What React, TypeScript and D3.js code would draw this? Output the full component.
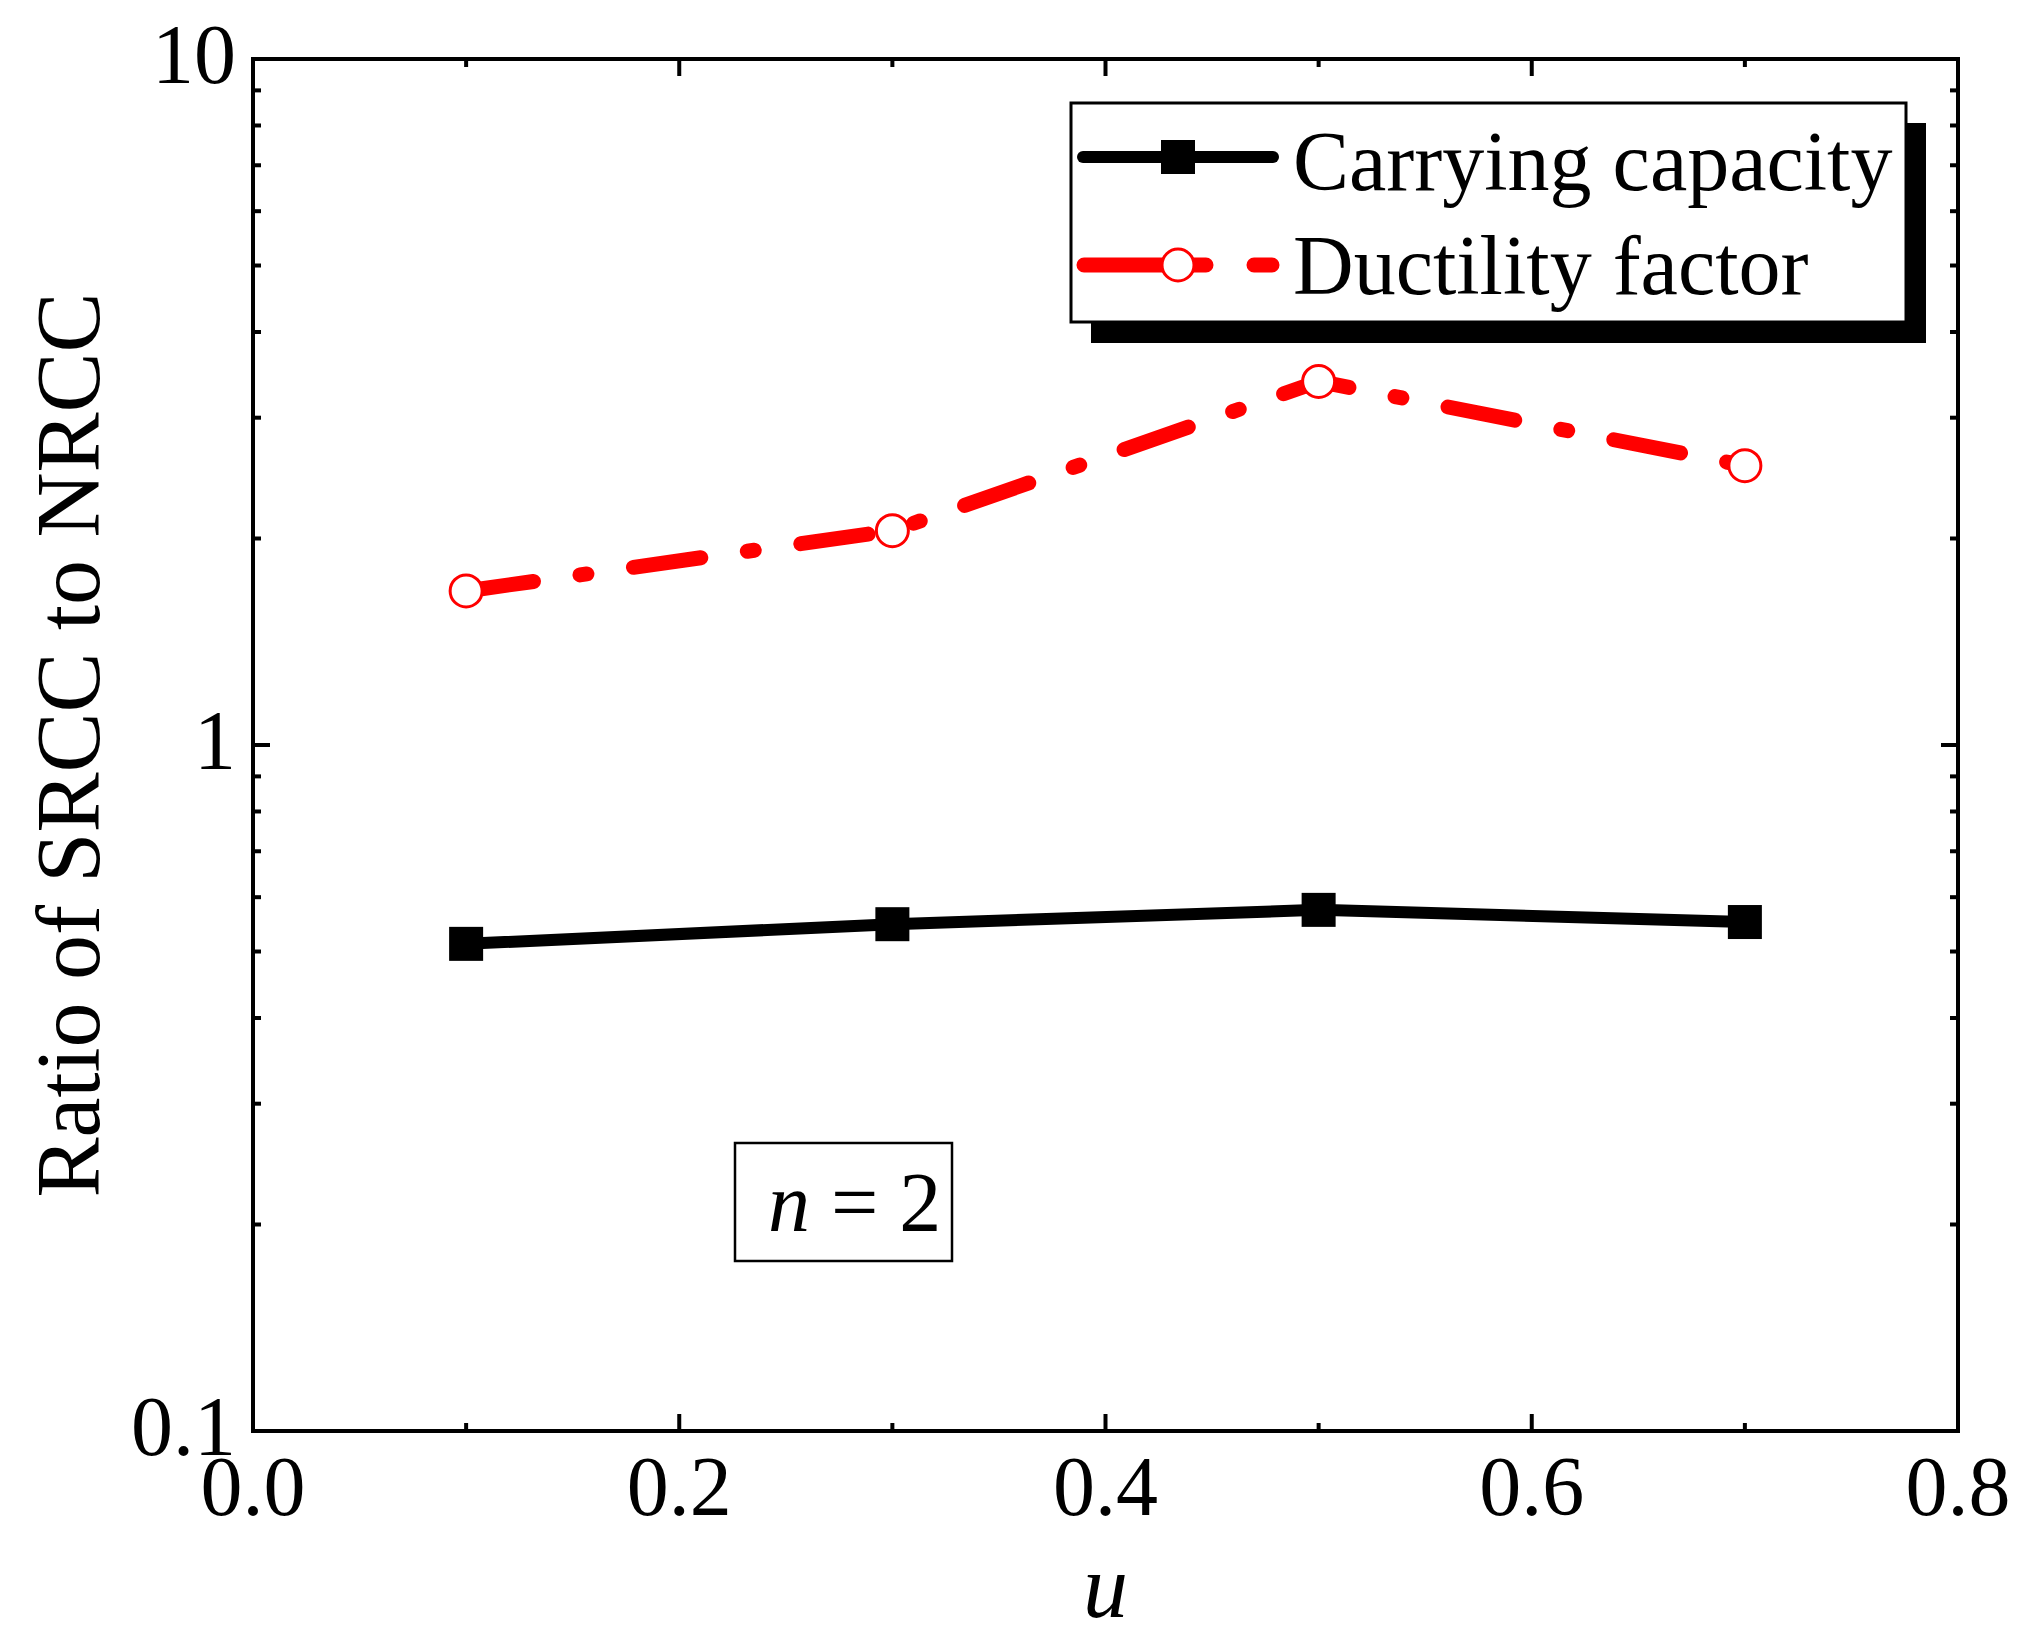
import * as d3 from "d3";

const uValues = [0.1, 0.3, 0.5, 0.7];
const carrying = [0.513, 0.548, 0.575, 0.552];
const ductility = [1.677, 2.053, 3.388, 2.554];

const xMajor = [0, 0.2, 0.4, 0.6, 0.8];
const xMinor = [0.1, 0.3, 0.5, 0.7];
const yMajor = [0.1, 1, 10];
const yMajorLabels = ["0.1", "1", "10"];

const seriesNames = ["Carrying capacity", "Ductility factor"];

const W = 2030;
const H = 1641;
const FONT = "'Liberation Serif', 'Times New Roman', serif";
const RED = "#ff0000";

export default function App() {
  const m = { l: 253, r: 1958, t: 59, b: 1431 };
  const x = d3.scaleLinear().domain([0, 0.8]).range([m.l, m.r]);
  const y = d3.scaleLog().domain([0.1, 10]).range([m.b, m.t]);

  const yMinor = y.ticks().filter((v) => !yMajor.some((mj) => Math.abs(mj - v) < 1e-9));

  const line = d3
    .line<[number, number]>()
    .x((d) => x(d[0]))
    .y((d) => y(d[1]));

  const cPts = uValues.map((u, i) => [u, carrying[i]] as [number, number]);
  const dPts = uValues.map((u, i) => [u, ductility[i]] as [number, number]);

  const majorLen = 17;
  const minorLen = 8;
  const sq = 34;

  // legend geometry
  const lg = { x: 1071, y: 103, w: 835, h: 219 };

  return (
    <svg width={W} height={H} viewBox={`0 0 ${W} ${H}`} style={{ position: "absolute", left: 0, top: 0, background: "#fff" }} fontFamily={FONT}>
      <rect x={0} y={0} width={W} height={H} fill="#fff" />

      {/* ticks */}
      {xMajor.map((t) => (
        <g key={"xM" + t}>
          <line x1={x(t)} x2={x(t)} y1={m.b} y2={m.b - majorLen} stroke="#000" strokeWidth={4} />
          <line x1={x(t)} x2={x(t)} y1={m.t} y2={m.t + majorLen} stroke="#000" strokeWidth={4} />
          <text x={x(t)} y={m.b + 84} textAnchor="middle" fontSize={84}>{t.toFixed(1)}</text>
        </g>
      ))}
      {xMinor.map((t) => (
        <g key={"xm" + t}>
          <line x1={x(t)} x2={x(t)} y1={m.b} y2={m.b - minorLen} stroke="#000" strokeWidth={4} />
          <line x1={x(t)} x2={x(t)} y1={m.t} y2={m.t + minorLen} stroke="#000" strokeWidth={4} />
        </g>
      ))}
      {yMajor.map((t, i) => (
        <g key={"yM" + t}>
          <line x1={m.l} x2={m.l + majorLen} y1={y(t)} y2={y(t)} stroke="#000" strokeWidth={4} />
          <line x1={m.r} x2={m.r - majorLen} y1={y(t)} y2={y(t)} stroke="#000" strokeWidth={4} />
          <text x={236} y={y(t) + 24} textAnchor="end" fontSize={84}>{yMajorLabels[i]}</text>
        </g>
      ))}
      {yMinor.map((t) => (
        <g key={"ym" + t}>
          <line x1={m.l} x2={m.l + minorLen} y1={y(t)} y2={y(t)} stroke="#000" strokeWidth={4} />
          <line x1={m.r} x2={m.r - minorLen} y1={y(t)} y2={y(t)} stroke="#000" strokeWidth={4} />
        </g>
      ))}

      {/* frame */}
      <rect x={m.l} y={m.t} width={m.r - m.l} height={m.b - m.t} fill="none" stroke="#000" strokeWidth={4} />

      {/* axis titles */}
      <text x={(m.l + m.r) / 2} y={1617} textAnchor="middle" fontSize={90} fontStyle="italic">u</text>
      <text transform={`translate(99,${(m.t + m.b) / 2}) rotate(-90)`} textAnchor="middle" fontSize={90}>
        Ratio of SRCC to NRCC
      </text>

      {/* series */}
      <path d={line(cPts) ?? ""} fill="none" stroke="#000" strokeWidth={12} strokeLinejoin="round" />
      {cPts.map((p, i) => (
        <rect key={"c" + i} x={x(p[0]) - sq / 2} y={y(p[1]) - sq / 2} width={sq} height={sq} fill="#000" />
      ))}
      <path d={line(dPts) ?? ""} fill="none" stroke={RED} strokeWidth={15} strokeLinecap="round" strokeLinejoin="round" strokeDasharray="68 47 7 47" />
      {dPts.map((p, i) => (
        <circle key={"d" + i} cx={x(p[0])} cy={y(p[1])} r={16} fill="#fff" stroke={RED} strokeWidth={3} />
      ))}

      {/* legend */}
      <rect x={lg.x + 20} y={lg.y + 20} width={lg.w} height={lg.h + 1} fill="#000" />
      <rect x={lg.x} y={lg.y} width={lg.w} height={lg.h} fill="#fff" stroke="#000" strokeWidth={3} />
      <line x1={1083} x2={1273} y1={157} y2={157} stroke="#000" strokeWidth={12} strokeLinecap="round" />
      <rect x={1178 - sq / 2} y={157 - sq / 2} width={sq} height={sq} fill="#000" />
      <text x={1293} y={190} fontSize={84}>{seriesNames[0]}</text>
      <line x1={1084} x2={1272} y1={265} y2={265} stroke={RED} strokeWidth={15} strokeLinecap="round" strokeDasharray="122 48 18 100" />
      <circle cx={1178} cy={265} r={16} fill="#fff" stroke={RED} strokeWidth={3} />
      <text x={1293} y={294} fontSize={84}>{seriesNames[1]}</text>

      {/* annotation */}
      <rect x={735} y={1143} width={217} height={118} fill="#fff" stroke="#000" strokeWidth={2.5} />
      <text x={768} y={1231} fontSize={84} style={{ whiteSpace: "pre" }}>
        <tspan fontStyle="italic">n</tspan>
        <tspan>{" = 2"}</tspan>
      </text>
    </svg>
  );
}
